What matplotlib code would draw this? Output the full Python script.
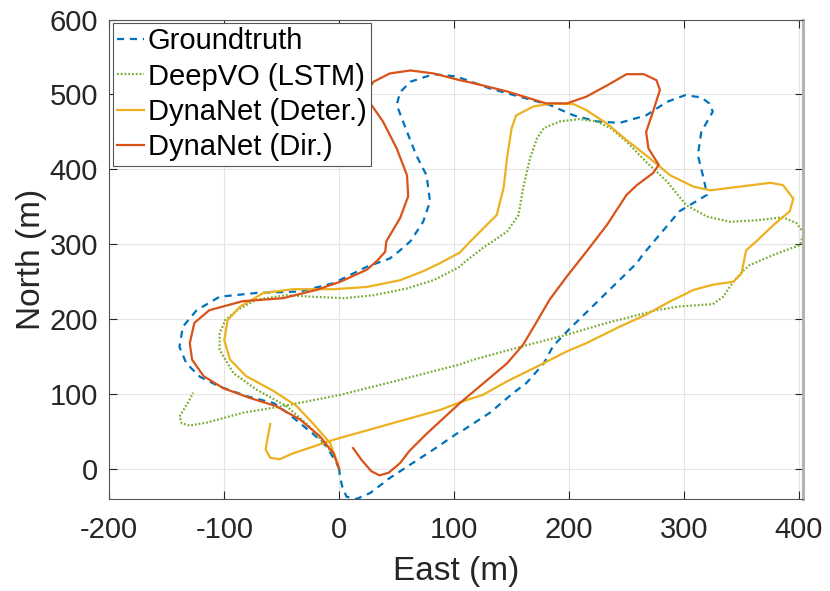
import matplotlib
matplotlib.use("Agg")
import matplotlib.pyplot as plt

plt.rcParams['font.family'] = ['Liberation Sans', 'DejaVu Sans']
plt.rcParams['axes.unicode_minus'] = False

# ---- data (East, North) in metres ----
gt_east = [0, -2.3, -11, -22, -34, -46, -57, -80, -104, -121, -133, -139, -136, -124, -104, -72, -34, -5,
           24, 44, 53, 62, 73, 79, 76, 67, 59, 50, 53, 62, 82, 102, 131, 157, 183, 204, 224, 244, 267,
           285, 301, 315, 322, 325, 315, 312, 317, 320, 296, 264, 259, 201, 186, 178, 163, 151, 131,
           108, 104, 82, 62, 44, 27, 15, 6.4, 2.9, 0.6, 0]
gt_north = [0, 8, 30, 46, 61, 76, 88, 97, 110, 123, 141, 163, 190, 212, 230, 235, 237, 248,
            270, 281, 292, 304, 330, 357, 392, 419, 450, 486, 503, 517, 527, 524, 508, 497, 486, 472, 464, 462, 472,
            490, 499, 496, 488, 477, 450, 419, 388, 366, 344, 286, 275, 188, 164, 141, 115, 101, 75,
            52, 49, 26, 6, -12, -32, -40, -37, -25, -10, 0]

deepvo_east = [-4, -11, -26, -46, -72, -92, -104, -104, -99, -89, -72, -46, -23, 4, 30, 59, 82, 105, 108,
               125, 146, 156, 160, 166, 172, 178, 192, 209, 224, 236, 250, 267, 285, 302, 320, 340, 363,
               386, 398, 404, 401, 378, 357, 351, 343, 334, 325, 296, 276, 233, 195, 160, 117, 104, 88,
               53, 1, -49, -84, -115, -130, -137, -139, -137, -131, -127]
deepvo_north = [18, 30, 57, 84, 106, 128, 159, 181, 199, 212, 226, 232, 230, 228, 232, 241, 252, 270, 275,
                295, 317, 339, 375, 415, 441, 455, 464, 467, 464, 455, 437, 410, 384, 352, 337, 330, 332,
                336, 328, 315, 299, 286, 272, 264, 250, 230, 220, 217, 212, 195, 178, 164, 146, 139, 133,
                119, 99, 84, 75, 62, 58, 61, 70, 75, 90, 102]

deter_east = [-1, -8, -23, -37, -57, -81, -95, -100, -97, -86, -66, -40, -5, 24, 53, 73, 88, 105, 111,
              131, 137, 143, 146, 150, 154, 169, 186, 204, 215, 233, 250, 270, 288, 308, 323, 349, 375,
              386, 395, 392, 378, 363, 354, 350, 343, 325, 308, 299, 288, 267, 244, 215, 198, 175, 146,
              125, 105, 88, 53, -5, -40, -52, -60, -64, -62, -60]
deter_north = [6, 35, 61, 84, 104, 124, 146, 172, 199, 217, 235, 240, 240, 243, 252, 264, 275, 289, 299,
               330, 339, 375, 415, 455, 472, 484, 488, 487, 479, 461, 439, 415, 392, 377, 372, 377, 382,
               379, 361, 344, 326, 304, 292, 261, 250, 246, 239, 232, 224, 206, 190, 168, 157, 139, 117,
               99, 89, 79, 64, 39, 21, 13, 15, 26, 44, 60]

dir_east = [0, -5, -17, -34, -55, -78, -101, -118, -128, -130, -126, -113, -84, -49, -20, 1, 24, 33, 40,
            41, 53, 60, 59, 50, 38, 28, 24, 30, 44, 62, 82, 105, 117, 146, 180, 198, 215, 233, 250, 265,
            276, 279, 273, 267, 269, 278, 273, 259, 250, 233, 216, 198, 183, 172, 160, 146, 122, 105,
            88, 76, 61, 53, 43, 35, 28, 19.5, 12]
dir_north = [0, 21, 44, 66, 84, 95, 108, 124, 146, 168, 195, 212, 224, 228, 239, 250, 266, 278, 290,
             304, 335, 364, 392, 428, 464, 486, 504, 517, 528, 532, 528, 519, 515, 504, 488, 488, 497, 512, 527, 527,
             519, 506, 477, 450, 428, 406, 395, 379, 366, 326, 292, 257, 226, 197, 166, 141, 110, 88,
             64, 47, 24, 8, -5, -8.5, -3, 12, 28]

labels = ['Groundtruth', 'DeepVO (LSTM)', 'DynaNet (Deter.)', 'DynaNet (Dir.)']
colors = ['#0072BD', '#77AC30', '#EDB120', '#D95319']
x_ticks = [-200, -100, 0, 100, 200, 300, 400]
y_ticks = [0, 100, 200, 300, 400, 500, 600]

fig = plt.figure(figsize=(8.3, 5.91), dpi=100)
ax = fig.add_axes([0.1317, 0.1557, 0.8358, 0.8113])

ax.plot(gt_east, gt_north, linestyle=(0, (3.2, 2.6)), color=colors[0], lw=1.6, label=labels[0])
ax.plot(deepvo_east, deepvo_north, linestyle=(0, (0.8, 0.9)), color=colors[1], lw=1.6, label=labels[1])
ax.plot(deter_east, deter_north, '-', color=colors[2], lw=1.6, label=labels[2], solid_joinstyle='round')
ax.plot(dir_east, dir_north, '-', color=colors[3], lw=1.6, label=labels[3], solid_joinstyle='round')

ax.set_xlim(-200, 403.5)
ax.set_ylim(-40, 600)
ax.set_xticks(x_ticks)
ax.set_yticks(y_ticks)
ax.grid(True, color='#e5e5e5', lw=0.8)
ax.set_axisbelow(True)
ax.tick_params(direction='in', length=6, width=0.8, colors='#262626', labelsize=21,
               top=True, right=True)
ax.tick_params(axis='x', pad=12)
ax.tick_params(axis='y', pad=8)
for s in ['left', 'bottom', 'top']:
    ax.spines[s].set_color('#555555')
    ax.spines[s].set_linewidth(0.8)
ax.spines['right'].set_color('#b3b3b3')
ax.spines['right'].set_linewidth(2.2)

ax.set_xlabel('East (m)', fontsize=24, color='#262626', labelpad=9)
ax.set_ylabel('North (m)', fontsize=24, color='#262626', labelpad=2)

leg = ax.legend(loc='upper left', fontsize=21, handlelength=0.92, handletextpad=0.12,
                labelspacing=0.25, borderpad=0.15, borderaxespad=0.12, fancybox=False,
                framealpha=1, edgecolor='#555555')
leg.get_frame().set_linewidth(0.8)

fig.savefig('out.png', dpi=100)
